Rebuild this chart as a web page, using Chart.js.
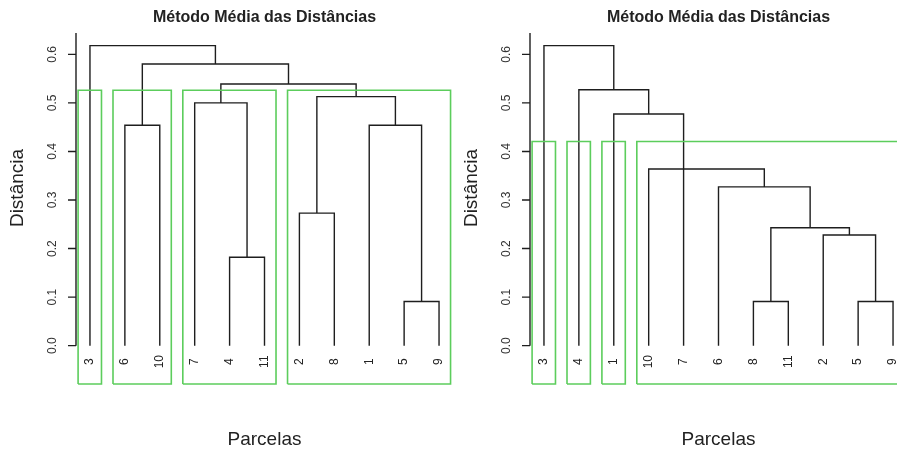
<!DOCTYPE html>
<html>
<head>
<meta charset="utf-8">
<script src="https://cdn.jsdelivr.net/npm/chart.js@4.4.1/dist/chart.umd.min.js"></script>
<style>
  html, body { margin: 0; padding: 0; background: #fff; overflow: hidden; width: 897px; height: 453px; position: relative; }
  canvas { position: absolute; top: 0; }
  #dendroA { left: 0; }
  #dendroB { left: 455px; }
</style>
</head>
<body>
<canvas id="dendroA" width="460" height="453"></canvas>
<canvas id="dendroB" width="465" height="453"></canvas>
<script>
// Texts
const titleText = 'Método Média das Distâncias';
const xTitle = 'Parcelas';
const yTitle = 'Distância';
const yTickLabels = ['0.0', '0.1', '0.2', '0.3', '0.4', '0.5', '0.6'];

// Left dendrogram: leaf order, merges (negative = leaf position, positive = earlier merge), heights
const leavesA = ['3', '6', '10', '7', '4', '11', '2', '8', '1', '5', '9'];
const mergeLeftA = [-10, -5, -7, -2, -9, -4, 3, 6, 4, -1];
const mergeRightA = [-11, -6, -8, -3, 1, 2, 5, 7, 8, 9];
const heightsA = [0.091, 0.182, 0.273, 0.454, 0.454, 0.500, 0.513, 0.539, 0.580, 0.618];
const groupSizesA = [1, 2, 3, 5];

// Right dendrogram
const leavesB = ['3', '4', '1', '10', '7', '6', '8', '11', '2', '5', '9'];
const mergeLeftB = [-7, -10, -9, 1, -6, -4, -3, -2, -1];
const mergeRightB = [-8, -11, 2, 3, 4, 5, -5, 7, 8];
const heightsB = [0.091, 0.091, 0.228, 0.243, 0.327, 0.364, 0.477, 0.527, 0.618];
const groupSizesB = [1, 1, 1, 8];

const FONT = '"Liberation Sans", Arial, Helvetica, sans-serif';
const LINE = '#1e1e1e';
const GREEN = '#5ccd5c';

function buildDatasets(mL, mR, h, groups, yMin) {
  const pos = [];
  const xOf = c => c < 0 ? -c : pos[c - 1];
  const hOf = c => c < 0 ? 0 : h[c - 1];
  const branches = [];
  for (let i = 0; i < h.length; i++) {
    const xl = xOf(mL[i]), xr = xOf(mR[i]);
    pos[i] = (xl + xr) / 2;
    branches.push({
      data: [
        { x: xl, y: hOf(mL[i]) }, { x: xl, y: h[i] },
        { x: xr, y: h[i] }, { x: xr, y: hOf(mR[i]) }
      ],
      borderColor: LINE, borderWidth: 1.4, pointRadius: 0, fill: false,
      tension: 0, clip: false, order: 1
    });
  }
  // cluster boxes: top halfway between the (k-1)-th and k-th highest merges
  const k = groups.length;
  const sorted = h.slice().sort((a, b) => b - a);
  const top = (sorted[k - 2] + sorted[k - 1]) / 2;
  const boxes = [];
  let before = 0;
  groups.forEach(size => {
    const l = before + 0.66, r = before + size + 0.33;
    boxes.push({
      data: [
        { x: l, y: yMin }, { x: l, y: top }, { x: r, y: top },
        { x: r, y: yMin }, { x: l, y: yMin }
      ],
      borderColor: GREEN, borderWidth: 1.6, pointRadius: 0, fill: false,
      tension: 0, clip: false, order: 0
    });
    before += size;
  });
  return boxes.concat(branches);
}

function annotations(leaves) {
  return {
    id: 'dendroText',
    afterDraw(chart) {
      const ctx = chart.ctx;
      const ca = chart.chartArea;
      const ys = chart.scales.y, xs = chart.scales.x;
      const cx = (ca.left + ca.right) / 2;
      ctx.save();
      // axis line and ticks
      ctx.strokeStyle = '#1e1e1e';
      ctx.lineWidth = 1.4;
      ctx.beginPath();
      ctx.moveTo(ca.left, ys.getPixelForValue(0));
      ctx.lineTo(ca.left, ca.top);
      yTickLabels.forEach(t => {
        const py = ys.getPixelForValue(parseFloat(t));
        ctx.moveTo(ca.left - 8, py);
        ctx.lineTo(ca.left, py);
      });
      ctx.stroke();
      // rotated tick labels
      ctx.fillStyle = '#333';
      ctx.font = '12px ' + FONT;
      ctx.textAlign = 'center';
      ctx.textBaseline = 'middle';
      yTickLabels.forEach(t => {
        const py = ys.getPixelForValue(parseFloat(t));
        ctx.save();
        ctx.translate(ca.left - 23, py);
        ctx.rotate(-Math.PI / 2);
        ctx.fillText(t, 0, 0);
        ctx.restore();
      });
      // leaf labels
      ctx.fillStyle = '#222';
      ctx.font = '12px ' + FONT;
      leaves.forEach((lab, i) => {
        const px = xs.getPixelForValue(i + 1);
        ctx.save();
        ctx.translate(px, ys.getPixelForValue(0) + 16);
        ctx.rotate(-Math.PI / 2);
        ctx.fillText(lab, 0, 0);
        ctx.restore();
      });
      // title
      ctx.fillStyle = '#222';
      ctx.font = 'bold 16px ' + FONT;
      ctx.fillText(titleText, cx, 18);
      // axis titles
      ctx.font = '19px ' + FONT;
      ctx.fillText(xTitle, cx, 440);
      ctx.save();
      ctx.translate(ca.left - 58, 188);
      ctx.rotate(-Math.PI / 2);
      ctx.fillText(yTitle, 0, 0);
      ctx.restore();
      ctx.restore();
    }
  };
}

function makeChart(id, leaves, mL, mR, h, groups, padLeft, padRight) {
  const n = leaves.length;
  const yMin = -0.079, yMax = 0.644;
  new Chart(document.getElementById(id), {
    type: 'line',
    data: { datasets: buildDatasets(mL, mR, h, groups, yMin) },
    options: {
      responsive: false,
      animation: false,
      devicePixelRatio: 1,
      layout: { padding: { left: padLeft, right: padRight, top: 33, bottom: 69 } },
      plugins: { legend: { display: false }, tooltip: { enabled: false }, title: { display: false } },
      scales: {
        x: { type: 'linear', display: false, min: 1 - 0.04 * (n - 1), max: n + 0.04 * (n - 1) },
        y: { type: 'linear', display: false, min: yMin, max: yMax }
      }
    },
    plugins: [annotations(leaves)]
  });
}

makeChart('dendroA', leavesA, mergeLeftA, mergeRightA, heightsA, groupSizesA, 76, 7);
makeChart('dendroB', leavesB, mergeLeftB, mergeRightB, heightsB, groupSizesB, 75, 13);
</script>
</body>
</html>
